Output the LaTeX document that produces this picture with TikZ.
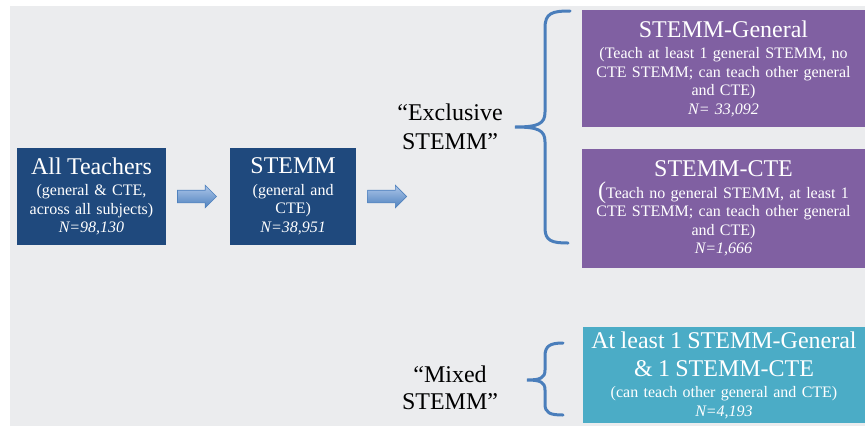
\documentclass[tikz,border=0pt]{standalone}
\usepackage{fontspec}
\setmainfont{Liberation Serif}
\usepackage{tikz}
\usetikzlibrary{positioning,shapes.arrows}
\usepackage{xcolor}

\definecolor{navy}{RGB}{31,73,125}
\definecolor{plum}{RGB}{128,96,162}
\definecolor{aqua}{RGB}{75,172,198}
\definecolor{bracec}{RGB}{74,126,187}
\definecolor{arrowtop}{RGB}{172,198,234}
\definecolor{arrowbot}{RGB}{79,129,189}
\definecolor{bg}{RGB}{235,236,238}

\newcommand\boxtitle[1]{{\fontsize{24}{28}\selectfont #1}}

\begin{document}
\begin{tikzpicture}
    [x=1pt,y=-1pt,
    box/.style={
      rectangle,
      inner sep=0pt,
      fill=#1,text=white,
      align=center,
      font=\fontsize{16}{18.5}\selectfont
      },
    box/.default=navy,
    blockarrow/.style={
      single arrow,
      minimum height=39pt,minimum width=0pt,
      single arrow head extend=5pt,inner xsep=0pt,inner ysep=6pt,
      top color=arrowtop,bottom color=arrowbot,draw=arrowbot,line width=.6pt
      },
    quote/.style={font=\fontsize{24}{#1}\selectfont,align=center},
    curly/.style={draw=bracec,line width=3pt,line cap=round}]

    \useasboundingbox (0,0) rectangle (865,426);
    \fill[bg] (10,6) rectangle (865,426);

    \node (all) [box, minimum width=149pt, minimum height=97pt, text width=140pt] at (91.5,196.5)
      {\boxtitle{All Teachers}\\[3pt](general \& CTE,\\across all subjects)\\\textit{N=98,130}};
    \node (arr1) [blockarrow, right=11pt of all] {};
    \node (stemm) [box, minimum width=126pt, minimum height=97pt, text width=120pt, right=13pt of arr1]
      {\boxtitle{STEMM}\\[3pt](general and\\CTE)\\\textit{N=38,951}};
    \node (arr2) [blockarrow, right=11pt of stemm] {};

    \node (gen) [box=plum, minimum width=283pt, minimum height=117pt, text width=270pt] at (723.5,68.5)
      {\boxtitle{STEMM-General}\\[3pt](Teach at least 1 general STEMM, no\\CTE STEMM; can teach other general\\and CTE)\\\textit{N= 33,092}};
    \node (cte) [box=plum, minimum width=283pt, minimum height=119pt, text width=270pt] at (723.5,208.5)
      {\boxtitle{STEMM-CTE}\\[3pt]{\fontsize{24}{18.5}\selectfont(}Teach no general STEMM, at least 1\\CTE STEMM; can teach other general\\and CTE)\\\textit{N=1,666}};
    \node (mix) [box=aqua, minimum width=282pt, minimum height=96pt, text width=278pt] at (724,375)
      {\boxtitle{At least 1 STEMM-General}\\[9.5pt]\boxtitle{\& 1 STEMM-CTE}\\[3pt](can teach other general and CTE)\\\textit{N=4,193}};

    \node (excl) [quote=29] at (450,127) {“Exclusive\\STEMM”};
    \node (mixq) [quote=27] at (450,388) {“Mixed\\STEMM”};

    \draw[curly] (570,11) .. controls (552,11) and (545,13) .. (545,28) -- (545,112)
      .. controls (545,124) and (538,127) .. (515,127) .. controls (538,127) and (545,130) .. (545,142)
      -- (545,228) .. controls (545,241) and (552,243) .. (568,243);
    \draw[curly] (563,343) .. controls (550,343) and (545,346) .. (545,356) -- (545,370)
      .. controls (545,378) and (540,380) .. (527,380) .. controls (540,380) and (545,382) .. (545,390)
      -- (545,404) .. controls (545,413) and (550,415) .. (563,415);

  \end{tikzpicture}
\end{document}
